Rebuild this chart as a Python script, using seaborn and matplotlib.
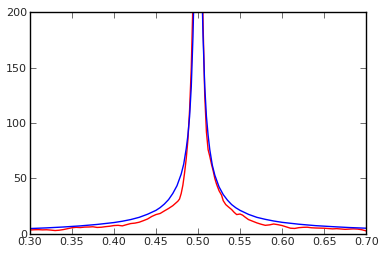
import numpy as np
import pandas as pd
import matplotlib
matplotlib.use('Agg')
import matplotlib.pyplot as plt
import seaborn as sns

x_meas = [0.300, 0.305, 0.310, 0.315, 0.320, 0.325, 0.330, 0.335, 0.340, 0.345,
          0.350, 0.355, 0.360, 0.365, 0.370, 0.375, 0.380, 0.385, 0.390, 0.395,
          0.400, 0.405, 0.410, 0.415, 0.420, 0.425, 0.430, 0.435, 0.440, 0.445,
          0.450, 0.455, 0.460, 0.465, 0.470, 0.473, 0.476, 0.478, 0.480, 0.482,
          0.484, 0.486, 0.488, 0.490, 0.492, 0.494, 0.496,
          0.504, 0.506, 0.508, 0.510, 0.512, 0.514, 0.516, 0.518, 0.520, 0.522,
          0.525, 0.528, 0.530, 0.533, 0.536, 0.540, 0.543, 0.546, 0.550, 0.553,
          0.556, 0.560, 0.565, 0.570, 0.575, 0.580, 0.585, 0.590, 0.595, 0.600,
          0.605, 0.610, 0.615, 0.620, 0.625, 0.630, 0.635, 0.640, 0.645, 0.650,
          0.655, 0.660, 0.665, 0.670, 0.675, 0.680, 0.685, 0.690, 0.695, 0.700]
y_meas = [3.6, 3.8, 3.9, 3.7, 3.8, 3.5, 3.1, 3.4, 4.0, 4.8,
          5.6, 6.0, 5.8, 6.2, 6.3, 6.5, 5.9, 6.1, 6.6, 7.0,
          7.6, 7.8, 7.3, 8.4, 9.4, 9.8, 10.6, 12.0, 13.5, 15.8,
          17.5, 18.5, 20.8, 23.0, 25.5, 27.5, 29.5, 31.5, 36.5, 44.0,
          55.0, 68.0, 85.0, 112.0, 150.0, 210.0, 300.0,
          300.0, 190.0, 125.0, 92.0, 76.0, 70.0, 63.0, 57.0, 50.0, 45.0,
          39.0, 35.0, 30.0, 26.5, 24.5, 22.0, 19.5, 17.5, 18.0, 17.0,
          15.2, 13.0, 11.5, 10.0, 8.8, 7.8, 8.2, 9.0, 8.4, 7.6,
          6.4, 5.2, 5.0, 5.7, 6.0, 6.1, 5.6, 5.4, 5.3, 5.2,
          4.9, 4.6, 4.8, 4.5, 4.2, 4.4, 4.6, 4.4, 3.8, 2.8]

# smooth theory curve
x_theo = [0.300, 0.320, 0.340, 0.360, 0.380, 0.400, 0.410, 0.420, 0.430, 0.440,
          0.450, 0.455, 0.460, 0.465, 0.470, 0.475, 0.480, 0.483, 0.486, 0.488,
          0.490, 0.492, 0.494, 0.495, 0.496,
          0.504, 0.505, 0.506, 0.508, 0.510, 0.512, 0.514, 0.517, 0.520, 0.525,
          0.530, 0.535, 0.540, 0.545, 0.550, 0.560, 0.570, 0.580, 0.590, 0.600,
          0.620, 0.640, 0.660, 0.680, 0.700]
y_theo = [4.9, 5.5, 6.3, 7.3, 8.6, 10.3, 11.5, 13.0, 15.0, 17.8,
          21.3, 23.8, 27.0, 31.0, 36.5, 43.5, 54.0, 63.0, 77.0, 89.0,
          106.0, 133.0, 178.0, 210.0, 265.0,
          265.0, 210.0, 178.0, 133.0, 106.0, 89.0, 76.0, 62.0, 53.0, 42.5,
          35.5, 30.5, 26.5, 23.6, 21.3, 17.7, 15.0, 13.2, 11.7, 10.5,
          8.8, 7.5, 6.6, 5.8, 5.2]

df_meas = pd.DataFrame({'x': x_meas, 'y': y_meas})
df_theo = pd.DataFrame({'x': x_theo, 'y': y_theo})

sns.set_style('ticks')
plt.rcParams['font.family'] = ['DejaVu Sans']

fig = plt.figure(figsize=(3.83, 2.56), dpi=100)
ax = fig.add_axes([0.078, 0.086, 0.878, 0.867])

sns.lineplot(data=df_meas, x='x', y='y', color='red', linewidth=1.0, ax=ax)
sns.lineplot(data=df_theo, x='x', y='y', color='blue', linewidth=1.0, ax=ax)

ax.set_xlim(0.3, 0.7)
ax.set_ylim(0, 200)
ax.set_xticks(np.arange(0.30, 0.701, 0.05))
ax.set_xticklabels(['0.30', '0.35', '0.40', '0.45', '0.50', '0.55', '0.60', '0.65', '0.70'])
ax.set_yticks([0, 50, 100, 150, 200])
ax.set_xlabel('')
ax.set_ylabel('')
ax.tick_params(direction='in', top=True, right=True, length=4, width=0.6,
               labelsize=8, pad=2, color='#555555')
for s in ax.spines.values():
    s.set_linewidth(1.0)
    s.set_color('black')

fig.savefig('out.png', dpi=100)
